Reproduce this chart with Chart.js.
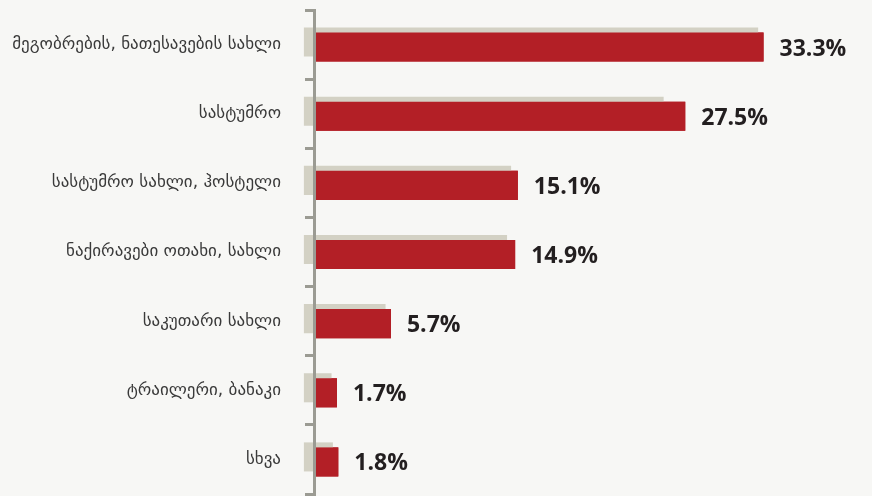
<!DOCTYPE html>
<html>
<head>
<meta charset="utf-8">
<script src="https://cdn.jsdelivr.net/npm/chart.js@4"></script>
<style>
  html, body { margin: 0; padding: 0; background: #f7f7f5; }
  #wrap { width: 872px; height: 496px; }
</style>
</head>
<body>
<div id="wrap"><canvas id="stayChart"></canvas></div>
<script>
// categories (y axis)
const categories = [
    'მეგობრების, ნათესავების სახლი',
    'სასტუმრო',
    'სასტუმრო სახლი, ჰოსტელი',
    'ნაქირავები ოთახი, სახლი',
    'საკუთარი სახლი',
    'ტრაილერი, ბანაკი',
    'სხვა'
];
// main values, %
const shares = [33.3, 27.5, 15.1, 14.9, 5.7, 1.7, 1.8];
// grey bars behind
const backShares = [32.9, 25.9, 14.6, 14.3, 5.3, 1.3, 1.4];

const red = '#b31f26';
const grey = '#d3d1c4';
const axisGrey = '#9b9b93';

// value labels right of the red bars
const valueLabels = {
    id: 'valueLabels',
    afterDatasetsDraw(chart) {
        // red bars on top of the grey ones
        const meta = chart.getDatasetMeta(1);
        meta.controller.draw();

        const ctx = chart.ctx;
        ctx.save();
        ctx.font = 'bold 23px "Open Sans"';
        ctx.fillStyle = '#231f20';
        ctx.textAlign = 'left';
        ctx.textBaseline = 'middle';
        meta.data.forEach((bar, i) => {
            ctx.fillText(shares[i].toFixed(1) + '%', bar.x + 16, bar.y + 2);
        });
        ctx.restore();
    }
};

const chartEl = document.getElementById('stayChart');
const stayChart = new Chart(chartEl, {
    type: 'bar',
    data: {
        labels: categories,
        datasets: [{
            label: 'back',
            data: backShares,
            backgroundColor: grey,
            base: -0.75,
            clip: false,
            categoryPercentage: 0.145,
            barPercentage: 5.8
        },
        {
            label: 'share',
            data: shares,
            backgroundColor: red,
            categoryPercentage: 0.145,
            barPercentage: 5.8
        }]
    },
    options: {
        indexAxis: 'y',
        responsive: true,
        maintainAspectRatio: false,
        animation: false,
        layout: {
            padding: { left: 0, right: 18, top: 10, bottom: 2 }
        },
        scales: {
            x: {
                display: false,
                min: 0,
                max: 40
            },
            y: {
                grid: {
                    offset: true,
                    drawOnChartArea: false,
                    drawTicks: true,
                    tickLength: 9,
                    lineWidth: 3,
                    color: axisGrey
                },
                border: {
                    display: true,
                    color: axisGrey,
                    width: 3,
                    z: 1
                },
                ticks: {
                    padding: 24,
                    color: '#3a3a3a',
                    font: { family: 'DejaVu Sans', size: 17 }
                },
                afterFit(scale) {
                    scale.width = 314;
                    // no extra room above/below for the labels
                    scale.paddingTop = 0;
                    scale.paddingBottom = 0;
                }
            }
        },
        plugins: {
            legend: { display: false },
            tooltip: { enabled: false }
        }
    },
    plugins: [valueLabels]
});
</script>
</body>
</html>
